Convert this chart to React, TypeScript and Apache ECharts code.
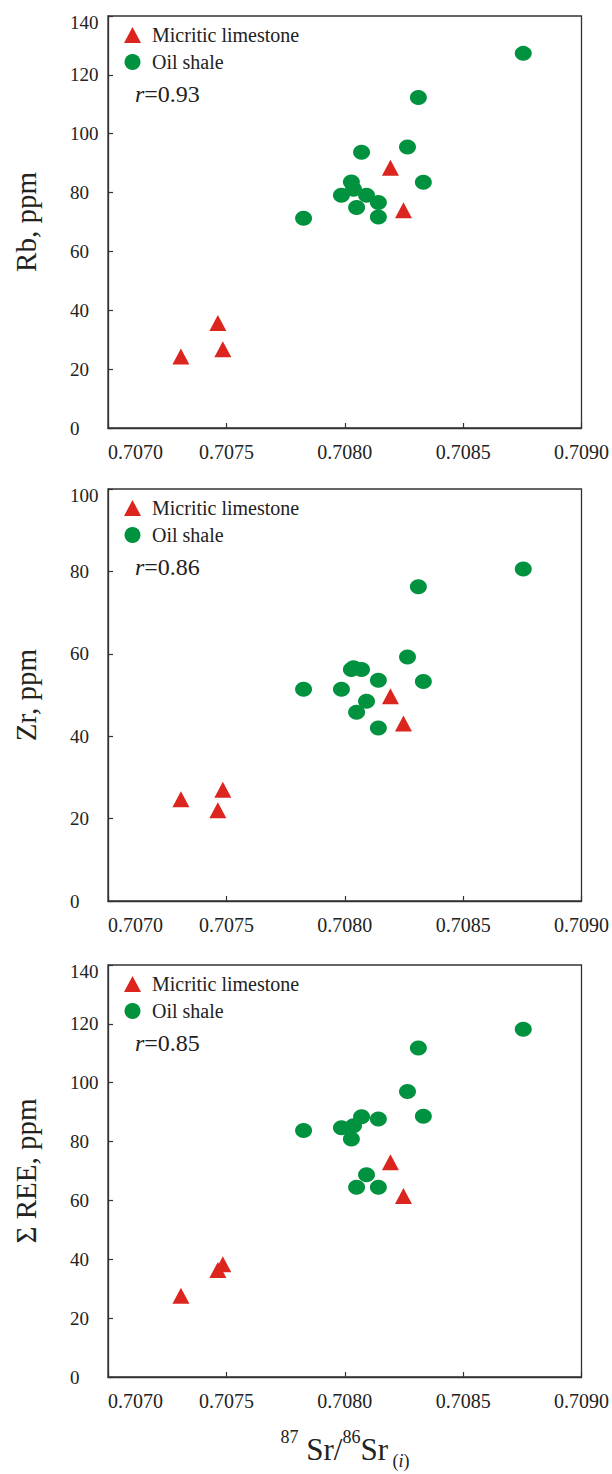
import React, { useEffect, useRef } from 'react';
import * as echarts from 'echarts';

// ---- data ----
const seriesNames = ['Micritic limestone', 'Oil shale'];
const yTitles = ['Rb, ppm', 'Zr, ppm', 'Σ REE, ppm'];
const yMaxes = [140, 100, 140];
const rValues = ['0.93', '0.86', '0.85'];

const shaleSr = [0.708754, 0.708311, 0.708265, 0.708332, 0.707826, 0.707986, 0.708142, 0.708142, 0.708028, 0.708037, 0.70805, 0.708071, 0.708092];
const shaleRb = [127.3, 112.3, 95.5, 83.5, 71.3, 79.1, 76.6, 71.7, 83.6, 81.1, 74.9, 93.7, 79.1];
const shaleZr = [80.6, 76.3, 59.2, 53.3, 51.4, 51.4, 53.6, 42.0, 56.2, 56.6, 45.8, 56.2, 48.5];
const shaleREE = [118.2, 111.8, 97.0, 88.6, 83.8, 84.7, 87.7, 64.5, 80.9, 85.4, 64.5, 88.4, 68.7];

const limeSr = [0.707308, 0.707464, 0.707485, 0.708193, 0.708248];
const limeRb = [24.3, 35.7, 26.8, 88.4, 74.0];
const limeZr = [24.7, 22.0, 27.0, 49.7, 43.1];
const limeREE = [27.6, 36.4, 38.3, 73.0, 61.5];

const shaleY = [shaleRb, shaleZr, shaleREE];
const limeY = [limeRb, limeZr, limeREE];

// ---- layout ----
const FONT = 'Liberation Serif';
const RED = '#dc251f';
const GREEN = '#00923f';
const TEXT = '#222';
const LINE = '#333';
const gridTops = [16, 489, 965];
const gridHeight = 412;
const gridLeft = 108;
const gridRight = 30;

export default function App() {
  const ref = useRef<HTMLDivElement>(null);
  useEffect(() => {
    if (!ref.current) return;
    const chart = echarts.init(ref.current, undefined, { renderer: 'svg' });
    const idx = [0, 1, 2];
    const option: any = {
      animation: false,
      backgroundColor: '#fff',
      textStyle: { fontFamily: FONT },
      grid: idx.map((i) => ({
        left: gridLeft,
        right: gridRight,
        top: gridTops[i],
        height: gridHeight,
        show: true,
        borderColor: LINE,
        borderWidth: 1.3,
        backgroundColor: 'transparent',
      })),
      xAxis: idx.map((i) => ({
        type: 'value',
        gridIndex: i,
        min: 0.707,
        max: 0.709,
        interval: 0.0005,
        axisLine: { show: true, onZero: false, lineStyle: { color: LINE, width: 1.3 } },
        axisTick: { show: true, inside: true, length: 5, lineStyle: { color: LINE, width: 1.2 } },
        splitLine: { show: false },
        axisLabel: {
          show: true,
          showMinLabel: true,
          showMaxLabel: true,
          alignMinLabel: 'left',
          margin: 14,
          fontFamily: FONT,
          fontSize: 20,
          color: TEXT,
          formatter: (v: number) => v.toFixed(4),
        },
      })),
      yAxis: idx.map((i) => ({
        type: 'value',
        gridIndex: i,
        min: 0,
        max: yMaxes[i],
        interval: 20,
        name: yTitles[i],
        nameLocation: 'middle',
        nameGap: 68,
        nameTextStyle: { fontFamily: FONT, fontSize: 29, color: TEXT },
        axisLine: { show: true, onZero: false, lineStyle: { color: LINE, width: 1.3 } },
        axisTick: { show: true, inside: true, length: 5, lineStyle: { color: LINE, width: 1.2 } },
        splitLine: { show: false },
        axisLabel: {
          show: true,
          showMinLabel: true,
          showMaxLabel: true,
          align: 'left',
          margin: 38,
          fontFamily: FONT,
          fontSize: 19,
          color: TEXT,
          formatter: (v: number) => (v === yMaxes[i] ? '{top|' + v + '}' : String(v)),
          rich: {
            top: { fontFamily: FONT, fontSize: 19, color: TEXT, padding: [12, 0, 0, 0] },
          },
        },
      })),
      legend: idx.map((i) => ({
        data: seriesNames,
        orient: 'vertical',
        left: 124,
        top: gridTops[i] + 9,
        padding: 0,
        itemWidth: 17,
        itemHeight: 16,
        itemGap: 7,
        selectedMode: false,
        textStyle: { fontFamily: FONT, fontSize: 20, color: TEXT, lineHeight: 20, padding: [0, 0, 0, 6] },
      })),
      series: idx.flatMap((i) => [
        {
          name: seriesNames[0],
          type: 'scatter',
          xAxisIndex: i,
          yAxisIndex: i,
          symbol: 'triangle',
          symbolSize: [17, 16],
          itemStyle: { color: RED, opacity: 1 },
          data: limeSr.map((x, k) => [x, limeY[i][k]]),
          z: 3,
        },
        {
          name: seriesNames[1],
          type: 'scatter',
          xAxisIndex: i,
          yAxisIndex: i,
          symbol: 'circle',
          symbolSize: [17, 15],
          itemStyle: { color: GREEN, opacity: 1 },
          data: shaleSr.map((x, k) => [x, shaleY[i][k]]),
          z: 3,
        },
      ]),
      graphic: [
        ...idx.map((i) => ({
          type: 'text',
          x: 135,
          y: gridTops[i] + 78,
          style: {
            text: '{i|r}{n|=' + rValues[i] + '}',
            verticalAlign: 'middle',
            rich: {
              i: { fontFamily: FONT, fontSize: 24, fontStyle: 'italic', fill: TEXT },
              n: { fontFamily: FONT, fontSize: 24, fill: TEXT },
            },
          },
        })),
        {
          type: 'text',
          x: 345,
          y: 1449,
          style: {
            text: '{sup|87}{b| Sr/}{sup|86}{b|Sr}{sub| (}{subi|i}{sub|)}',
            align: 'center',
            verticalAlign: 'middle',
            rich: {
              b: { fontFamily: FONT, fontSize: 31, fill: TEXT, lineHeight: 42 },
              sup: { fontFamily: FONT, fontSize: 18, fill: TEXT, lineHeight: 22, verticalAlign: 'top' },
              sub: { fontFamily: FONT, fontSize: 18, fill: TEXT, lineHeight: 16, verticalAlign: 'bottom' },
              subi: { fontFamily: FONT, fontSize: 18, fontStyle: 'italic', fill: TEXT, lineHeight: 16, verticalAlign: 'bottom' },
            },
          },
        },
      ],
    };
    chart.setOption(option);
    return () => chart.dispose();
  }, []);
  return (
    <div
      ref={ref}
      style={{ position: 'absolute', left: 0, top: 0, width: 612, height: 1474, background: '#fff' }}
    />
  );
}
